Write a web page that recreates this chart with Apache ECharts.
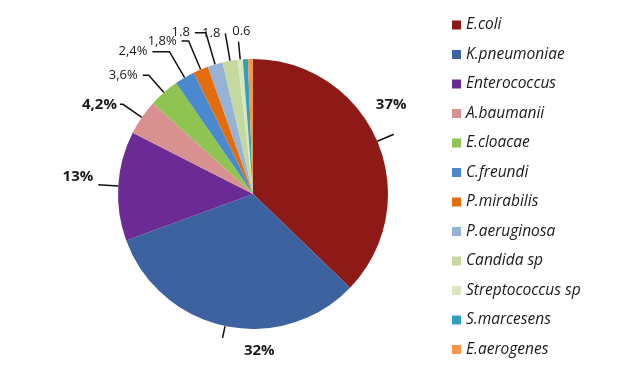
<!DOCTYPE html>
<html><head><meta charset="utf-8">
<script src="https://cdn.jsdelivr.net/npm/echarts@6/dist/echarts.min.js"></script>
<style>html,body{margin:0;padding:0;background:#fff}#c{width:624px;height:381px}</style>
</head><body><div id="c"></div>
<script>
const categories = ['E.coli','K.pneumoniae','Enterococcus','A.baumanii','E.cloacae','C.freundi','P.mirabilis','P.aeruginosa','Candida sp','Streptococcus sp','S.marcesens','E.aerogenes'];
const values = [37, 32, 13, 4.2, 3.6, 2.4, 1.8, 1.8, 1.8, 0.6, 0.6, 0.6];
const labelTexts = ['37%','32%','13%','4,2%','3,6%','2,4%','1,8%','1.8','1.8','0.6','',''];

// styling (not data)
const colors = ['#8d1a17','#3c62a0','#6b2b95','#d9918f','#8fc452','#4a88cf','#e36c0c','#95b3d7','#c5d89d','#d9e6bf','#2fa0bf','#f79646'];
const boldLabels = [true,true,true,true,false,false,false,false,false,false,false,false];
// per-slice label styling: [line length, length2, distanceToLabelLine, blank lines before, blank lines after, lineHeight]
const labelLineStyles = [
  [18, 0, -18, 0, 2, 29],
  [12, 0, -52, 1, 0, 26],
  [20, 0, 5, 0, 1, 16],
  [23, 3, 3, 0, 0, 18],
  [23, 6, 5, 0, 0, 18],
  [30, 17, 5, 0, 0, 18],
  [31, 7, 5, 0, 0, 18],
  [33, 11, 5, 0, 0, 18],
  [28, 0, 5, 0, 0, 18],
  [18, 0, -12, 0, 1, 20],
  [10, 10, 5, 0, 0, 18],
  [10, 10, 5, 0, 0, 18]
];

const data = categories.map((name, i) => {
  const s = labelLineStyles[i];
  const show = labelTexts[i] !== '';
  const text = '\n'.repeat(s[3]) + labelTexts[i] + '\n'.repeat(s[4]);
  return {
    name, value: values[i],
    itemStyle: {color: colors[i]},
    label: {show, formatter: text, fontWeight: boldLabels[i] ? 'bold' : 'normal',
            fontSize: boldLabels[i] ? 15 : 13, distanceToLabelLine: s[2], lineHeight: s[5]},
    labelLine: {show, length: s[0], length2: s[1]}
  };
});

const chart = echarts.init(document.getElementById('c'));
chart.setOption({
  animation: false,
  textStyle: {fontFamily: 'Open Sans'},
  legend: {
    orient: 'vertical', left: 452, top: 17, padding: 0,
    itemWidth: 9, itemHeight: 9, itemGap: 13.5,
    icon: 'rect',
    textStyle: {fontStyle: 'italic', fontSize: 15.5, color: '#1a1a1a', fontFamily: 'Open Sans'},
    data: categories
  },
  series: [{
    type: 'pie',
    center: [253, 194],
    radius: 135,
    startAngle: 90,
    clockwise: true,
    avoidLabelOverlap: false,
    labelLayout: {hideOverlap: false},
    data,
    label: {position: 'outside', color: '#1a1a1a', fontFamily: 'Open Sans'},
    labelLine: {lineStyle: {color: '#111', width: 1.5}, minTurnAngle: 0, maxSurfaceAngle: 180},
    itemStyle: {borderWidth: 0}
  }]
});
</script></body></html>
